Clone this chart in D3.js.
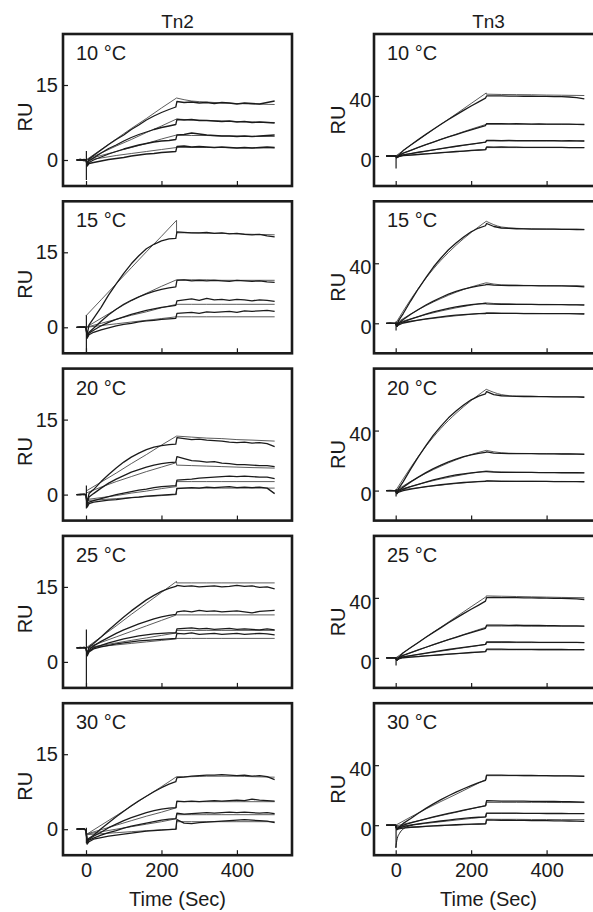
<!DOCTYPE html>
<html lang="en">
<head>
<meta charset="UTF-8">
<title>Tn2 / Tn3 binding traces</title>
<script src="https://cdnjs.cloudflare.com/ajax/libs/d3/7.8.5/d3.min.js"></script>
<style>
  body { margin: 0; background: #fff; }
  svg { display: block; font-family: "Liberation Sans", Arial, Helvetica, sans-serif; }
</style>
</head>
<body>
<svg width="593" height="912"></svg>
<script>
// ---- data ----
const proteins = ["Tn2", "Tn3"];
const temps = ["10 °C", "15 °C", "20 °C", "25 °C", "30 °C"];
const timeTicks = [0, 200, 400];
const tn2Ticks = [0, 15];
const tn3Ticks = [0, 40];

// sample times (sec) for the recorded traces and for the fitted curves
const traceTimes = [-25, -15, -5, 0, 3, 8, 20, 40, 60, 80, 100, 120, 140, 160, 180, 200, 220, 238,
                    241, 260, 280, 300, 320, 340, 360, 380, 400, 420, 440, 460, 480, 500];
const fitAssocTimes = [0, 40, 80, 120, 160, 200, 240];
const fitDissTimes = [240, 280, 320, 360, 400, 440, 500];

// Tn2 recorded traces (RU), four concentrations per temperature
const tn2Trace10 = [
  [0, 0.1, -0.1, 0, -0.6, 0.2, 0.9, 2.0, 3.1, 4.1, 5.0, 6.1, 7.0, 8.0, 8.8, 9.5, 10.1, 10.6,
   11.7, 11.5, 11.6, 11.4, 11.5, 11.3, 11.5, 11.4, 11.2, 11.4, 11.3, 11.2, 11.5, 11.8],
  [0, 0, 0.1, 0, -0.8, -0.2, 0.4, 1.4, 2.3, 3.0, 3.8, 4.5, 5.1, 5.6, 6.1, 6.5, 6.8, 7.1,
   8.1, 8.0, 8.1, 7.9, 7.9, 7.8, 7.7, 7.8, 7.6, 7.7, 7.5, 7.6, 7.5, 7.4],
  [0, 0, -0.1, 0, -1.0, -0.5, 0, 0.6, 1.2, 1.7, 2.2, 2.6, 3.0, 3.3, 3.6, 3.8, 3.9, 4.1,
   5.0, 5.1, 5.4, 5.2, 5.0, 4.9, 4.8, 4.8, 4.7, 4.8, 4.7, 4.8, 4.9, 5.0],
  [0, 0.1, 0, 0, -1.2, -0.7, -0.5, -0.2, 0.1, 0.3, 0.5, 0.8, 1.0, 1.2, 1.3, 1.5, 1.6, 1.7,
   2.7, 2.8, 2.6, 2.7, 2.6, 2.5, 2.6, 2.5, 2.4, 2.5, 2.4, 2.5, 2.6, 2.5]
];
const tn2Trace15 = [
  [0, 0.1, 0, 0, -1.5, 0.5, 1.8, 4.0, 6.5, 8.7, 10.8, 12.7, 14.3, 15.7, 16.6, 17.3, 17.7, 17.8,
   19.1, 19.0, 18.9, 18.9, 19.0, 18.8, 18.9, 18.7, 18.8, 18.6, 18.5, 18.6, 18.3, 18.1],
  [0, 0, 0.1, 0, -1.8, -1.0, -0.2, 1.2, 2.5, 3.6, 4.6, 5.4, 6.1, 6.7, 7.2, 7.6, 7.9, 8.1,
   9.4, 9.5, 9.3, 9.4, 9.3, 9.4, 9.3, 9.2, 9.4, 9.3, 9.2, 9.3, 9.1, 9.0],
  [0, 0.1, 0, 0, -2.0, -1.2, -0.6, 0.3, 1.0, 1.6, 2.1, 2.6, 3.0, 3.4, 3.7, 4.0, 4.2, 4.4,
   5.3, 5.5, 5.7, 5.4, 5.8, 5.5, 5.6, 5.4, 5.6, 5.5, 5.3, 5.5, 5.4, 5.2],
  [0, 0, 0.1, 0, -2.2, -1.5, -1.0, -0.5, -0.1, 0.3, 0.6, 0.8, 1.1, 1.3, 1.4, 1.6, 1.7, 1.8,
   2.8, 2.9, 3.0, 2.8, 3.1, 3.0, 3.1, 3.2, 3.0, 3.3, 3.2, 3.3, 3.4, 3.2]
];
const tn2Trace20 = [
  [0, 0.1, 0, 0, -1.5, 0.2, 1.0, 2.6, 4.0, 5.3, 6.5, 7.5, 8.3, 9.0, 9.5, 9.8, 10.0, 10.1,
   11.4, 11.2, 11.0, 11.1, 10.9, 10.8, 10.7, 10.5, 10.4, 10.5, 10.3, 10.4, 10.2, 9.6],
  [0, 0, 0.1, 0, -1.8, -0.5, 0.2, 1.3, 2.3, 3.1, 3.8, 4.5, 5.0, 5.5, 5.9, 6.2, 6.4, 6.5,
   7.6, 7.2, 6.8, 6.7, 6.5, 6.6, 6.3, 6.2, 6.0, 6.0, 5.9, 5.8, 5.8, 5.6],
  [0, 0, 0, 0, -2.0, -1.5, -1.2, -0.8, -0.4, 0, 0.3, 0.6, 0.9, 1.1, 1.4, 1.6, 1.7, 1.8,
   2.9, 3.0, 3.1, 3.3, 3.4, 3.5, 3.6, 3.7, 3.6, 3.7, 3.6, 3.5, 3.5, 3.2],
  [0, 0, 0.1, 0, -2.5, -1.8, -1.5, -1.3, -1.1, -1.0, -0.8, -0.6, -0.5, -0.3, -0.2, -0.1, 0, 0.1,
   1.2, 1.3, 1.4, 1.3, 1.5, 1.4, 1.5, 1.6, 1.4, 1.5, 1.4, 1.5, 1.3, 0.2]
];
const tn2Trace25 = [
  [2.8, 2.9, 2.8, 2.8, 1.5, 3.0, 3.7, 5.0, 6.4, 7.7, 9.0, 10.2, 11.3, 12.4, 13.3, 14.1, 14.7, 15.1,
   15.3, 15.1, 15.2, 15.0, 15.1, 15.2, 15.0, 15.1, 15.3, 15.1, 15.2, 14.9, 15.0, 14.6],
  [2.8, 2.8, 2.9, 2.8, 1.8, 2.5, 3.2, 4.1, 4.9, 5.7, 6.4, 7.0, 7.6, 8.1, 8.6, 9.0, 9.3, 9.5,
   10.0, 10.2, 10.0, 10.3, 10.1, 10.2, 10.0, 10.1, 10.2, 10.0, 9.8, 10.1, 10.2, 10.3],
  [2.8, 2.8, 2.8, 2.8, 1.5, 2.2, 2.8, 3.3, 3.8, 4.2, 4.6, 4.9, 5.2, 5.4, 5.6, 5.7, 5.8, 5.8,
   6.6, 6.7, 6.8, 6.6, 6.7, 6.5, 6.6, 6.7, 6.5, 6.6, 6.5, 6.4, 6.6, 6.4],
  [2.8, 2.8, 2.9, 2.8, 1.2, 2.0, 2.6, 3.0, 3.3, 3.6, 3.8, 4.0, 4.2, 4.3, 4.4, 4.5, 4.6, 4.7,
   5.7, 5.6, 5.8, 5.5, 5.6, 5.7, 5.5, 5.6, 5.7, 5.5, 5.6, 5.7, 5.6, 5.4]
];
const tn2Trace30 = [
  [0, 0.1, 0, -0.2, -2.3, -1.8, -1.2, 0.1, 1.3, 2.5, 3.6, 4.7, 5.7, 6.6, 7.5, 8.3, 9.0, 9.5,
   10.3, 10.4, 10.6, 10.7, 10.8, 10.8, 10.9, 10.8, 10.7, 10.8, 10.6, 10.7, 10.5, 9.9],
  [0, 0, 0.1, -0.2, -2.5, -2.0, -1.4, -0.6, 0.3, 1.0, 1.7, 2.3, 2.8, 3.3, 3.7, 4.0, 4.2, 4.3,
   5.6, 5.5, 5.6, 5.5, 5.6, 5.7, 5.6, 5.7, 5.8, 5.7, 6.0, 5.8, 5.7, 5.6],
  [0, 0.1, 0, -0.2, -2.8, -2.2, -1.8, -1.2, -0.7, -0.3, 0.2, 0.6, 0.9, 1.2, 1.5, 1.8, 2.0, 2.1,
   3.2, 3.0, 3.1, 3.2, 3.3, 3.2, 3.3, 3.4, 3.3, 3.4, 3.3, 3.2, 3.3, 3.1],
  [0, 0, 0.1, -0.2, -3.0, -2.5, -2.0, -1.7, -1.4, -1.2, -1.0, -0.8, -0.6, -0.4, -0.3, -0.2, -0.1, 0,
   1.9, 1.2, 1.1, 1.3, 1.4, 1.5, 1.6, 1.7, 1.8, 1.9, 1.8, 1.7, 1.6, 1.3]
];

// Tn2 fitted curves: association values then dissociation values
const tn2Fit10 = [
  [0, 2.1, 4.2, 6.3, 8.3, 10.4, 12.4, 12.4, 11.8, 11.6, 11.4, 11.3, 11.2, 11.1],
  [0, 1.4, 2.8, 4.1, 5.5, 6.8, 8.2, 8.2, 8.0, 7.9, 7.8, 7.7, 7.6, 7.5],
  [0, 0.9, 1.7, 2.5, 3.3, 4.2, 5.0, 5.0, 4.9, 4.9, 4.8, 4.8, 4.7, 4.7],
  [0, 0.4, 0.9, 1.3, 1.7, 2.1, 2.5, 2.5, 2.5, 2.5, 2.5, 2.4, 2.4, 2.4]
];
const tn2Fit15 = [
  [2.3, 5.5, 8.7, 11.9, 15.1, 18.2, 21.4, 18.9, 18.9, 18.8, 18.8, 18.7, 18.6, 18.5],
  [0, 1.8, 3.6, 5.3, 6.8, 8.2, 9.5, 9.5, 9.5, 9.5, 9.4, 9.4, 9.4, 9.4],
  [0, 0.8, 1.6, 2.4, 3.1, 3.9, 4.6, 4.6, 4.6, 4.6, 4.6, 4.6, 4.6, 4.6],
  [0, 0.35, 0.7, 1.05, 1.4, 1.75, 2.1, 2.1, 2.1, 2.1, 2.1, 2.1, 2.1, 2.1]
];
const tn2Fit20 = [
  [0.7, 2.5, 4.3, 6.2, 8.0, 9.9, 11.7, 11.7, 11.5, 11.3, 11.2, 11.0, 10.9, 10.7],
  [0.3, 1.5, 2.6, 3.6, 4.6, 5.5, 6.4, 5.9, 5.8, 5.7, 5.6, 5.5, 5.4, 5.3],
  [-1.0, -0.6, -0.2, 0.3, 0.7, 1.2, 1.6, 2.6, 2.6, 2.6, 2.6, 2.6, 2.6, 2.6],
  [-1.2, -1.0, -0.8, -0.6, -0.4, -0.2, 0, 1.3, 1.3, 1.3, 1.3, 1.3, 1.3, 1.3]
];
const tn2Fit25 = [
  [2.8, 5.0, 7.2, 9.5, 11.7, 13.9, 16.1, 15.8, 15.8, 15.8, 15.8, 15.8, 15.8, 15.8],
  [2.8, 3.9, 5.0, 6.1, 7.2, 8.3, 9.4, 9.4, 9.4, 9.4, 9.4, 9.4, 9.4, 9.4],
  [2.8, 3.3, 3.8, 4.3, 4.8, 5.3, 5.8, 6.3, 6.3, 6.3, 6.3, 6.3, 6.3, 6.3],
  [2.8, 3.1, 3.4, 3.7, 4.0, 4.3, 4.6, 4.7, 4.7, 4.7, 4.7, 4.7, 4.7, 4.7]
];
const tn2Fit30 = [
  [-1.1, 0.8, 2.7, 4.6, 6.6, 8.5, 10.5, 10.5, 10.5, 10.6, 10.6, 10.6, 10.5, 10.4],
  [-1.0, -0.1, 0.8, 1.7, 2.6, 3.4, 4.3, 5.5, 5.5, 5.5, 5.5, 5.5, 5.5, 5.5],
  [-1.0, -0.5, 0, 0.5, 1.0, 1.5, 2.1, 2.9, 2.9, 2.9, 2.9, 2.9, 2.9, 2.9],
  [-1.1, -0.9, -0.7, -0.5, -0.3, -0.1, 0, 1.5, 1.5, 1.5, 1.5, 1.5, 1.5, 1.5]
];

// Tn3 recorded traces (RU)
const tn3Trace10 = [
  [0, 0, 0.1, 0, -1, 0.5, 3.6, 7.3, 10.9, 14.4, 17.8, 21.1, 24.3, 27.4, 30.4, 33.3, 36.1, 38.6,
   40.0, 40.1, 40.0, 39.9, 39.9, 39.8, 39.8, 39.7, 39.7, 39.6, 39.5, 39.3, 38.9, 38.0],
  [0, 0, 0, 0, -1, 0, 1.9, 3.8, 5.7, 7.5, 9.3, 11.0, 12.7, 14.3, 15.9, 17.4, 18.9, 20.3,
   21.6, 21.5, 21.6, 21.4, 21.5, 21.4, 21.3, 21.4, 21.3, 21.2, 21.3, 21.2, 21.1, 21.0],
  [0, 0, 0, 0, -1, -0.3, 0.7, 1.6, 2.5, 3.3, 4.1, 4.9, 5.7, 6.5, 7.2, 7.9, 8.6, 9.2,
   10.4, 10.4, 10.3, 10.4, 10.3, 10.3, 10.2, 10.3, 10.2, 10.2, 10.1, 10.2, 10.1, 10.0],
  [0, 0, 0, 0, -1.2, -0.5, 0.2, 0.6, 1.0, 1.4, 1.8, 2.2, 2.6, 3.0, 3.3, 3.7, 4.0, 4.3,
   6.0, 5.9, 6.0, 5.9, 5.9, 5.8, 5.8, 5.8, 5.7, 5.7, 5.7, 5.6, 5.6, 5.6]
];
const tn3Trace15 = [
  [0, 0.2, 0, 0, -2, 2, 6.5, 15, 23, 30.5, 37.5, 43.5, 49, 53.5, 57.5, 61, 63.5, 65,
   66.5, 64.5, 63.5, 63.2, 63, 62.9, 62.8, 62.8, 62.7, 62.7, 62.6, 62.6, 62.5, 62.4],
  [0, 0, 0, 0, -2, 0, 2.5, 6.0, 9.2, 12.2, 14.8, 17.2, 19.4, 21.2, 22.8, 24.0, 25.0, 25.6,
   26.0, 25.4, 25.3, 25.2, 25.2, 25.1, 25.1, 25.0, 25.0, 24.9, 24.9, 24.8, 24.7, 24.3],
  [0, 0, 0, 0, -2, -0.5, 1, 2.8, 4.5, 6.1, 7.6, 8.8, 9.9, 10.9, 11.7, 12.4, 12.9, 13.2,
   13.0, 12.8, 12.7, 12.7, 12.6, 12.6, 12.6, 12.5, 12.5, 12.4, 12.4, 12.3, 12.3, 12.1],
  [0, 0, 0, 0, -2, -1, 0.2, 1.2, 2.1, 2.9, 3.6, 4.3, 4.9, 5.4, 5.8, 6.1, 6.4, 6.5,
   6.8, 6.7, 6.6, 6.6, 6.6, 6.5, 6.5, 6.5, 6.5, 6.4, 6.4, 6.4, 6.3, 6.2]
];
const tn3Trace20 = [
  [0, 0.2, 0, 0, -2, 1.5, 6, 14.5, 22.5, 30, 37, 43, 48.5, 53, 57, 60.5, 63, 64.5,
   66, 64, 63.2, 62.9, 62.8, 62.7, 62.7, 62.6, 62.6, 62.5, 62.5, 62.4, 62.4, 62.2],
  [0, 0, 0, 0, -2, 0, 2.3, 5.8, 9.0, 12.0, 14.6, 17.0, 19.2, 21.0, 22.6, 23.8, 24.8, 25.4,
   25.8, 25.0, 24.8, 24.7, 24.7, 24.6, 24.6, 24.5, 24.5, 24.5, 24.4, 24.4, 24.3, 24.2],
  [0, 0, 0, 0, -2, -0.5, 0.9, 2.6, 4.2, 5.7, 7.1, 8.3, 9.4, 10.4, 11.2, 11.8, 12.3, 12.6,
   12.6, 12.3, 12.2, 12.2, 12.1, 12.1, 12.1, 12.0, 12.0, 12.0, 11.9, 11.9, 11.9, 11.8],
  [0, 0, 0, 0, -2, -1, 0, 1.0, 1.8, 2.6, 3.3, 3.9, 4.5, 5.0, 5.4, 5.7, 6.0, 6.1,
   6.4, 6.3, 6.2, 6.2, 6.2, 6.1, 6.1, 6.1, 6.1, 6.0, 6.0, 6.0, 6.0, 5.9]
];
const tn3Trace25 = [
  [0, 0, 0.1, 0, -1.5, 0.3, 3.4, 6.9, 10.3, 13.7, 17.0, 20.2, 23.4, 26.5, 29.5, 32.4, 35.2, 37.8,
   40.2, 40.3, 40.2, 40.1, 40.1, 40.0, 40.0, 39.9, 39.8, 39.7, 39.6, 39.5, 39.3, 38.9],
  [0, 0, 0, 0, -1.5, -0.3, 1.7, 3.5, 5.3, 7.1, 8.8, 10.5, 12.1, 13.7, 15.3, 16.8, 18.3, 19.7,
   21.8, 21.9, 21.8, 21.7, 21.8, 21.6, 21.7, 21.6, 21.5, 21.5, 21.4, 21.4, 21.3, 21.2],
  [0, 0, 0, 0, -1.5, -0.5, 0.6, 1.5, 2.4, 3.2, 4.0, 4.8, 5.6, 6.3, 7.0, 7.7, 8.4, 9.0,
   10.6, 10.7, 10.6, 10.6, 10.5, 10.5, 10.5, 10.4, 10.4, 10.4, 10.3, 10.3, 10.3, 10.2],
  [0, 0, 0, 0, -1.5, -0.7, 0.1, 0.5, 0.9, 1.3, 1.7, 2.1, 2.5, 2.9, 3.2, 3.6, 3.9, 4.2,
   5.8, 5.8, 5.8, 5.7, 5.7, 5.7, 5.7, 5.6, 5.6, 5.6, 5.6, 5.5, 5.5, 5.5]
];
const tn3Trace30 = [
  [0, 0, 0, 0, -3, -1.5, 1.2, 4.5, 8.0, 11.2, 14.2, 17.0, 19.6, 22.0, 24.3, 26.4, 28.4, 29.8,
   33.4, 33.3, 33.3, 33.2, 33.2, 33.1, 33.1, 33.0, 33.0, 32.9, 32.8, 32.8, 32.7, 32.5],
  [0, 0, 0, 0, -2.5, -1.5, 0, 1.5, 2.9, 4.2, 5.5, 6.7, 7.8, 8.9, 10.0, 11.0, 12.0, 12.8,
   16.3, 16.2, 16.1, 16.1, 16.0, 16.0, 15.9, 15.9, 15.8, 15.8, 15.7, 15.7, 15.6, 15.4],
  [0, 0, 0, 0, -2.5, -2, -1, 0, 0.8, 1.5, 2.2, 2.8, 3.4, 4.0, 4.5, 5.0, 5.3, 5.6,
   8.1, 8.1, 8.0, 8.0, 8.0, 7.9, 7.9, 7.9, 7.8, 7.8, 7.8, 7.7, 7.7, 7.7],
  [0, 0, 0, 0, -3, -2.5, -2, -1.5, -1.2, -0.8, -0.5, -0.2, 0, 0.3, 0.5, 0.7, 0.8, 0.9,
   3.5, 3.4, 3.3, 3.3, 3.2, 3.2, 3.1, 3.0, 3.0, 2.9, 2.9, 2.8, 2.7, 2.6]
];

// Tn3 fitted curves
const tn3Fit10 = [
  [0, 7.3, 14.3, 21.1, 28.0, 35.0, 42.0, 41.2, 41.0, 40.9, 40.8, 40.6, 40.5, 40.3],
  [0, 3.8, 7.5, 11.1, 14.5, 17.9, 21.1, 21.3, 21.3, 21.2, 21.2, 21.1, 21.1, 21.0],
  [0, 1.6, 3.2, 4.8, 6.3, 7.8, 9.3, 10.0, 10.0, 10.0, 10.0, 10.0, 10.0, 10.0],
  [0, 0.7, 1.4, 2.1, 2.8, 3.5, 4.2, 5.6, 5.6, 5.6, 5.6, 5.6, 5.6, 5.6]
];
const tn3Fit15 = [
  [0, 16, 30, 42, 52, 60.5, 68, 68, 64.2, 63.3, 63.0, 62.8, 62.7, 62.6],
  [0, 6.2, 11.7, 16.5, 20.7, 24.2, 27.0, 27.0, 25.6, 25.3, 25.2, 25.1, 25.0, 24.9],
  [0, 3.0, 5.8, 8.2, 10.3, 12.1, 13.6, 13.6, 12.9, 12.7, 12.6, 12.6, 12.5, 12.4],
  [0, 1.4, 2.7, 3.9, 5.0, 6.0, 6.9, 6.9, 6.7, 6.6, 6.6, 6.5, 6.5, 6.4]
];
const tn3Fit20 = [
  [0, 15.5, 29.5, 41.5, 51.5, 60, 67.5, 67.5, 64, 63, 62.8, 62.6, 62.5, 62.4],
  [0, 6.1, 11.5, 16.3, 20.5, 24.0, 26.8, 26.8, 25.2, 24.8, 24.7, 24.6, 24.5, 24.4],
  [0, 2.8, 5.5, 7.8, 9.8, 11.6, 13.1, 13.1, 12.4, 12.2, 12.1, 12.0, 12.0, 11.9],
  [0, 1.3, 2.5, 3.7, 4.7, 5.7, 6.5, 6.5, 6.3, 6.2, 6.2, 6.1, 6.1, 6.0]
];
const tn3Fit25 = [
  [0, 6.9, 13.7, 20.5, 27.3, 34.1, 40.8, 41.3, 41.1, 40.9, 40.7, 40.5, 40.3, 40.1],
  [0, 3.5, 7.0, 10.5, 13.9, 17.2, 20.5, 21.2, 21.2, 21.2, 21.2, 21.1, 21.1, 21.1],
  [0, 1.5, 3.0, 4.5, 6.0, 7.5, 9.0, 10.2, 10.2, 10.2, 10.2, 10.2, 10.2, 10.2],
  [0, 0.7, 1.4, 2.1, 2.8, 3.5, 4.2, 5.4, 5.4, 5.4, 5.4, 5.4, 5.4, 5.4]
];
const tn3Fit30 = [
  [0, 5.5, 10.8, 15.8, 20.6, 25.6, 30.6, 33.0, 33.0, 33.0, 33.0, 32.9, 32.9, 32.8],
  [-0.5, 1.8, 4.1, 6.4, 8.6, 10.9, 13.2, 15.2, 15.2, 15.2, 15.2, 15.2, 15.1, 15.1],
  [-1, 0.1, 1.2, 2.3, 3.4, 4.5, 5.5, 7.8, 7.8, 7.8, 7.8, 7.8, 7.8, 7.8],
  [-1.5, -1.1, -0.7, -0.3, 0.1, 0.5, 0.9, 4.0, 3.9, 3.9, 3.8, 3.8, 3.7, 3.7]
];

// injection artefact at t = 0: [low, high] RU
const tn2Spikes = [[-4.0, 1.8], [-5.0, 2.4], [-2.8, 1.8], [-5.3, 6.5], [-2.8, 0.3]];
const tn3Spikes = [[-8.4, 0], [-4.8, 1.2], [-4.0, 1.0], [-5.0, 0], [-15, 0]];
// Tn3 30 °C: recovery of the dip right after injection
const tn3DipTimes = [0, 4, 10, 20, 30, 45];
const tn3Dip30 = [-15, -9, -5.5, -2.5, -1, 0];

const tn2Traces = [tn2Trace10, tn2Trace15, tn2Trace20, tn2Trace25, tn2Trace30];
const tn2Fits = [tn2Fit10, tn2Fit15, tn2Fit20, tn2Fit25, tn2Fit30];
const tn3Traces = [tn3Trace10, tn3Trace15, tn3Trace20, tn3Trace25, tn3Trace30];
const tn3Fits = [tn3Fit10, tn3Fit15, tn3Fit20, tn3Fit25, tn3Fit30];

// ---- layout ----
const svg = d3.select("svg");
const panelW = 229, panelH = 152, rowStep = 167.3, top0 = 34;
const ink = "#1b1b1b";

const columns = [
  { name: proteins[0], left: 63, xDomain: [-61, 546], yDomain: [-5.2, 25.2], yTicks: tn2Ticks,
    traces: tn2Traces, fits: tn2Fits, spikes: tn2Spikes, tickPad: 5, tickShift: 0, ruX: 32, ruDy: 83 },
  { name: proteins[1], left: 374, xDomain: [-57.5, 549.5], yDomain: [-20, 81.3], yTicks: tn3Ticks,
    traces: tn3Traces, fits: tn3Fits, spikes: tn3Spikes, tickPad: 2.5, tickShift: 4, ruX: 345, ruDy: 86 }
];

const defs = svg.append("defs");

columns.forEach((col, c) => {
  svg.append("text")
    .attr("x", col.left + panelW / 2)
    .attr("y", 28)
    .attr("text-anchor", "middle")
    .attr("font-size", 19)
    .attr("fill", ink)
    .text(col.name);

  temps.forEach((temp, r) => {
    const y0 = top0 + r * rowStep;
    const x = d3.scaleLinear().domain(col.xDomain).range([col.left, col.left + panelW]);
    const y = d3.scaleLinear().domain(col.yDomain).range([y0 + panelH, y0]);
    const g = svg.append("g");

    const clipId = `clip-${c}-${r}`;
    defs.append("clipPath").attr("id", clipId)
      .append("rect")
      .attr("x", col.left).attr("y", y0)
      .attr("width", panelW).attr("height", panelH);

    const plot = g.append("g").attr("clip-path", `url(#${clipId})`);

    const line = d3.line().x(d => x(d[0])).y(d => y(d[1]));
    const smooth = d3.line().x(d => x(d[0])).y(d => y(d[1])).curve(d3.curveMonotoneX);

    // fitted curves (association and dissociation parts)
    col.fits[r].forEach(vals => {
      const assoc = fitAssocTimes.map((t, i) => [t, vals[i]]);
      const diss = fitDissTimes.map((t, i) => [t, vals[i + fitAssocTimes.length]]);
      [assoc, diss].forEach(pts => {
        plot.append("path")
          .attr("d", smooth(pts))
          .attr("fill", "none")
          .attr("stroke", "#4a4a4a")
          .attr("stroke-width", 0.9);
      });
      plot.append("path")
        .attr("d", line([assoc[assoc.length - 1], diss[0]]))
        .attr("fill", "none")
        .attr("stroke", "#4a4a4a")
        .attr("stroke-width", 0.9);
    });

    // recorded traces
    col.traces[r].forEach(vals => {
      plot.append("path")
        .attr("d", line(traceTimes.map((t, i) => [t, vals[i]])))
        .attr("fill", "none")
        .attr("stroke", ink)
        .attr("stroke-width", 1.3)
        .attr("stroke-linejoin", "round");
    });

    // injection spike
    const sp = col.spikes[r];
    plot.append("path")
      .attr("d", line([[1, sp[0]], [1, sp[1]]]))
      .attr("stroke", ink)
      .attr("stroke-width", 1.2);

    if (c === 1 && r === 4) {
      plot.append("path")
        .attr("d", smooth(tn3DipTimes.map((t, i) => [t, tn3Dip30[i]])))
        .attr("fill", "none")
        .attr("stroke", ink)
        .attr("stroke-width", 1);
    }

    // axes, ticks pointing inward
    const xAxis = d3.axisBottom(x).tickValues(timeTicks).tickSize(-5).tickPadding(8);
    if (r < temps.length - 1) xAxis.tickFormat("");
    const gx = g.append("g")
      .attr("transform", `translate(0,${y0 + panelH})`)
      .call(xAxis);
    gx.select(".domain").remove();
    gx.selectAll("line").attr("stroke", ink).attr("stroke-width", 1.2);
    gx.selectAll("text")
      .attr("font-size", 20)
      .attr("font-family", "'Liberation Sans', Arial, sans-serif")
      .attr("fill", ink);

    const yAxis = d3.axisLeft(y).tickValues(col.yTicks).tickSize(-5).tickPadding(col.tickPad);
    const gy = g.append("g")
      .attr("transform", `translate(${col.left},0)`)
      .call(yAxis);
    gy.select(".domain").remove();
    gy.selectAll("line").attr("stroke", ink).attr("stroke-width", 1.2);
    gy.selectAll("text")
      .attr("font-size", 20)
      .attr("font-family", "'Liberation Sans', Arial, sans-serif")
      .attr("fill", ink)
      .attr("y", col.tickShift);

    // frame
    g.append("rect")
      .attr("x", col.left).attr("y", y0)
      .attr("width", panelW).attr("height", panelH)
      .attr("fill", "none")
      .attr("stroke", ink)
      .attr("stroke-width", 2.6);

    g.append("text")
      .attr("x", col.left + 13)
      .attr("y", y0 + 26)
      .attr("font-size", 20)
      .attr("fill", ink)
      .text(temp);

    g.append("text")
      .attr("transform", `translate(${col.ruX},${y0 + col.ruDy}) rotate(-90)`)
      .attr("text-anchor", "middle")
      .attr("font-size", 20)
      .attr("fill", ink)
      .text("RU");
  });

  svg.append("text")
    .attr("x", col.left + panelW / 2)
    .attr("y", 906)
    .attr("text-anchor", "middle")
    .attr("font-size", 20)
    .attr("fill", ink)
    .text("Time (Sec)");
});
</script>
</body>
</html>
